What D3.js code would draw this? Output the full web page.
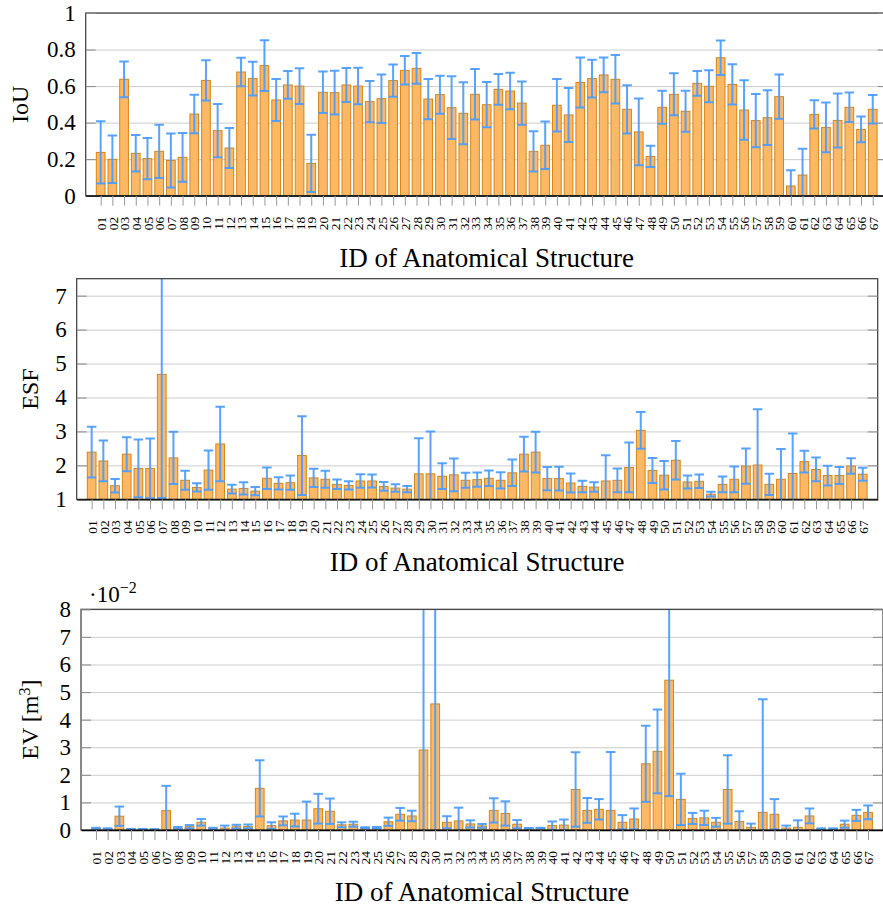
<!DOCTYPE html>
<html>
<head>
<meta charset="utf-8">
<script src="https://cdn.jsdelivr.net/npm/d3@7"></script>
<style>
  body { margin: 0; background: #fff; }
  svg { display: block; }
  svg text { font-family: "Liberation Serif", serif !important; fill: #000; }
</style>
</head>
<body>
<div id="chart"></div>
<script>
// IDs of the anatomical structures (x tick labels)
const ids = ["01","02","03","04","05","06","07","08","09","10",
  "11","12","13","14","15","16","17","18","19","20",
  "21","22","23","24","25","26","27","28","29","30",
  "31","32","33","34","35","36","37","38","39","40",
  "41","42","43","44","45","46","47","48","49","50",
  "51","52","53","54","55","56","57","58","59","60",
  "61","62","63","64","65","66","67"];

// IoU mean and std
const iouMean = [0.237,0.199,0.637,0.232,0.203,0.243,0.193,0.210,0.447,0.631,
  0.356,0.261,0.677,0.641,0.712,0.524,0.606,0.600,0.177,0.566,
  0.564,0.606,0.600,0.515,0.531,0.630,0.686,0.697,0.529,0.553,
  0.482,0.451,0.555,0.498,0.582,0.573,0.507,0.243,0.276,0.495,
  0.442,0.620,0.641,0.661,0.637,0.473,0.349,0.215,0.484,0.555,
  0.462,0.615,0.599,0.755,0.609,0.469,0.411,0.427,0.542,0.053,
  0.113,0.445,0.374,0.412,0.484,0.363,0.473];
const iouStd = [0.170,0.130,0.098,0.100,0.113,0.146,0.148,0.133,0.105,0.110,
  0.146,0.109,0.078,0.092,0.139,0.115,0.076,0.098,0.157,0.114,
  0.120,0.093,0.100,0.113,0.133,0.088,0.078,0.084,0.110,0.104,
  0.172,0.170,0.138,0.124,0.084,0.100,0.118,0.110,0.130,0.144,
  0.148,0.137,0.103,0.095,0.133,0.132,0.183,0.058,0.090,0.115,
  0.112,0.068,0.087,0.095,0.110,0.163,0.146,0.150,0.121,0.086,
  0.144,0.077,0.136,0.148,0.081,0.070,0.078];
const iouTicks = [0, 0.2, 0.4, 0.6, 0.8, 1];

// ESF mean and std
const esfMean = [2.39,2.13,1.40,2.33,1.91,1.91,4.68,2.22,1.56,1.35,
  1.86,2.63,1.30,1.32,1.24,1.62,1.47,1.49,2.29,1.63,
  1.59,1.44,1.41,1.54,1.54,1.38,1.33,1.30,1.75,1.75,
  1.68,1.72,1.56,1.58,1.62,1.56,1.78,2.33,2.39,1.61,
  1.61,1.48,1.38,1.36,1.54,1.56,1.94,3.03,1.85,1.71,
  2.15,1.51,1.53,1.15,1.44,1.59,1.98,2.01,1.44,1.59,
  1.76,2.11,1.88,1.70,1.70,1.98,1.74];
const esfStd = [0.75,0.60,0.20,0.50,0.85,0.88,3.64,0.77,0.28,0.12,
  0.58,1.10,0.13,0.18,0.12,0.32,0.18,0.21,1.16,0.27,
  0.25,0.14,0.12,0.20,0.19,0.13,0.11,0.09,1.05,1.25,
  0.38,0.48,0.22,0.21,0.23,0.24,0.39,0.51,0.60,0.34,
  0.35,0.28,0.17,0.14,0.76,0.35,0.73,0.54,0.37,0.42,
  0.57,0.19,0.20,0.07,0.23,0.38,0.52,1.64,0.31,0.89,
  1.18,0.32,0.35,0.29,0.25,0.23,0.19];
const esfTicks = [1, 2, 3, 4, 5, 6, 7];

// EV mean and std, in units of 10^-2 m^3
const evMean = [0.05,0.04,0.50,0.03,0.03,0.02,0.70,0.07,0.12,0.28,
  0.05,0.07,0.12,0.13,1.51,0.16,0.33,0.36,0.36,0.77,
  0.68,0.19,0.21,0.08,0.08,0.30,0.57,0.51,2.90,4.57,
  0.28,0.33,0.22,0.15,0.71,0.60,0.21,0.06,0.07,0.16,
  0.18,1.47,0.71,0.75,0.71,0.28,0.40,2.40,2.85,5.43,
  1.11,0.42,0.44,0.28,1.47,0.31,0.10,0.64,0.57,0.07,
  0.10,0.51,0.04,0.04,0.21,0.53,0.64];
const evStd = [0.03,0.02,0.35,0.01,0.01,0.01,0.90,0.04,0.06,0.12,
  0.03,0.09,0.07,0.07,1.02,0.12,0.16,0.23,0.67,0.54,
  0.46,0.09,0.09,0.02,0.03,0.15,0.23,0.19,6.00,5.50,
  0.22,0.48,0.13,0.07,0.44,0.44,0.15,0.01,0.01,0.15,
  0.20,1.35,0.45,0.37,2.12,0.26,0.38,1.38,1.52,4.20,
  0.93,0.20,0.26,0.16,1.24,0.37,0.13,4.10,0.55,0.09,
  0.25,0.27,0.02,0.02,0.13,0.20,0.25];
const evTicks = [0, 1, 2, 3, 4, 5, 6, 7, 8];

const barFill = "#fdb866";
const barStroke = "#d98515";
const errColor = "#4a9bff";
const serif = "Liberation Serif, serif";

const svg = d3.select("#chart").append("svg")
  .attr("width", 883)
  .attr("height", 910)
  .attr("font-family", serif);

// layout of the three panels
const panels = [
  { key: "iou", mean: iouMean, std: iouStd, domain: [0, 1], ticks: iouTicks,
    left: 85.7, top: 13, width: 802, height: 182.7, labelX: 28 },
  { key: "esf", mean: esfMean, std: esfStd, domain: [1, 7.5], ticks: esfTicks,
    left: 76.7, top: 278.7, width: 801, height: 220.6, labelX: 38 },
  { key: "ev", mean: evMean, std: evStd, domain: [0, 8], ticks: evTicks,
    left: 81, top: 609.3, width: 802, height: 220.7, labelX: 38 }
];

panels.forEach(function(p) {
  const g = svg.append("g")
    .attr("transform", "translate(" + p.left + "," + p.top + ")");

  const x = d3.scaleLinear().domain([-0.28, 68.28]).range([0, p.width]);
  const y = d3.scaleLinear().domain(p.domain).range([p.height, 0]);
  const bw = 8.7;
  const capW = 9.5;

  g.append("clipPath").attr("id", "clip-" + p.key)
    .append("rect").attr("width", p.width).attr("height", p.height);

  // horizontal grid
  g.append("g")
    .call(d3.axisLeft(y).tickValues(p.ticks).tickSize(-p.width).tickFormat(""))
    .call(s => s.select(".domain").remove())
    .selectAll("line").attr("stroke", "#cdcdcd").attr("stroke-width", 1);

  const plot = g.append("g").attr("clip-path", "url(#clip-" + p.key + ")");

  const rows = p.mean.map((m, i) => ({ i: i + 1, m: m, s: p.std[i] }));

  plot.selectAll("rect.bar")
    .data(rows)
    .enter()
    .append("rect")
    .attr("class", "bar")
    .attr("x", d => x(d.i) - bw / 2)
    .attr("y", d => y(d.m))
    .attr("width", bw)
    .attr("height", d => y(p.domain[0]) - y(d.m))
    .attr("fill", barFill)
    .attr("stroke", barStroke)
    .attr("stroke-width", 1);

  // error bars
  const err = plot.selectAll("g.err")
    .data(rows)
    .enter()
    .append("g")
    .attr("class", "err")
    .attr("stroke", errColor)
    .attr("stroke-width", 2)
    .attr("stroke-opacity", 0.92);
  err.append("line")
    .attr("x1", d => x(d.i)).attr("x2", d => x(d.i))
    .attr("y1", d => y(d.m - d.s)).attr("y2", d => y(d.m + d.s));
  err.append("line")
    .attr("x1", d => x(d.i) - capW / 2).attr("x2", d => x(d.i) + capW / 2)
    .attr("y1", d => y(d.m + d.s)).attr("y2", d => y(d.m + d.s));
  err.append("line")
    .attr("x1", d => x(d.i) - capW / 2).attr("x2", d => x(d.i) + capW / 2)
    .attr("y1", d => y(d.m - d.s)).attr("y2", d => y(d.m - d.s));

  // frame
  g.append("rect")
    .attr("width", p.width).attr("height", p.height)
    .attr("fill", "none").attr("stroke", "#3a3a3a").attr("stroke-width", 1.2);

  // y axis: inner ticks left and right
  const yAxis = g.append("g")
    .call(d3.axisLeft(y).tickValues(p.ticks).tickSize(-10).tickPadding(10)
      .tickFormat(d => String(d)))
    .attr("font-family", serif);
  yAxis.select(".domain").remove();
  yAxis.selectAll("line").attr("stroke", "#8a8a8a");
  yAxis.selectAll("text").style("font-size", "23px");

  g.append("g")
    .attr("transform", "translate(" + p.width + ",0)")
    .call(d3.axisRight(y).tickValues(p.ticks).tickSize(-10).tickFormat(""))
    .call(s => s.select(".domain").remove())
    .selectAll("line").attr("stroke", "#8a8a8a");

  // x axis
  const xAxis = g.append("g")
    .attr("transform", "translate(0," + p.height + ")")
    .call(d3.axisBottom(x).tickValues(d3.range(1, ids.length + 1))
      .tickSize(10).tickSizeOuter(0).tickFormat(i => ids[i - 1]))
    .attr("font-family", serif);
  xAxis.select(".domain").attr("stroke", "#000").attr("stroke-width", 1.3);
  xAxis.selectAll(".tick line").attr("stroke", "#9a9a9a");
  xAxis.selectAll(".tick text")
    .attr("transform", "rotate(-90)")
    .attr("x", -21)
    .attr("y", 0)
    .attr("dy", "0.35em")
    .style("text-anchor", "end")
    .style("font-size", "13.5px");

  // x title
  g.append("text")
    .attr("x", p.width / 2)
    .attr("y", p.height + 71.5)
    .attr("text-anchor", "middle")
    .style("font-size", "27px")
    .text("ID of Anatomical Structure");

  // y title
  const yl = svg.append("text")
    .attr("transform", "translate(" + p.labelX + "," + (p.top + p.height / 2) + ") rotate(-90)")
    .attr("text-anchor", "middle")
    .style("font-size", "24px");
  if (p.key === "iou") yl.text("IoU");
  if (p.key === "esf") yl.text("ESF");
  if (p.key === "ev") {
    yl.append("tspan").text("EV [m");
    yl.append("tspan").attr("dy", -8).style("font-size", "16px").text("3");
    yl.append("tspan").attr("dy", 8).text("]");
  }
});

// scale factor for the EV panel
const sf = svg.append("text")
  .attr("x", 89)
  .attr("y", 602)
  .style("font-size", "23px");
sf.append("tspan").text("·10");
sf.append("tspan").attr("dy", -9).style("font-size", "16px").text("−2");
</script>
</body>
</html>
